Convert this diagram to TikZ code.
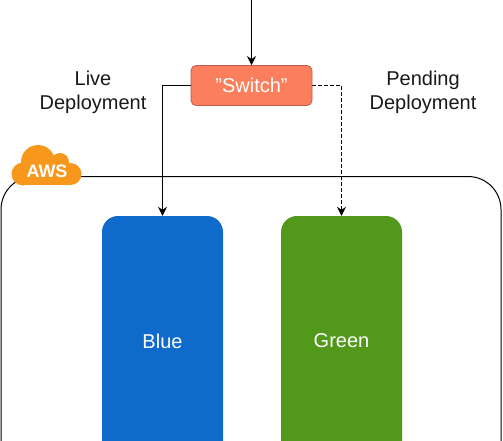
\documentclass[tikz,border=0pt]{standalone}
\usepackage{fontspec}
\setmainfont{Liberation Sans}
\usetikzlibrary{arrows.meta}
\tikzset{
  x=1pt,y=-1pt,
  flow/.style={draw=black,line width=1pt,-{Stealth[length=9pt,width=9pt,inset=3pt]}},
  whitetext/.style={text=white,font=\fontsize{20}{24}\selectfont},
  tier/.style={whitetext,rounded corners=16pt,minimum width=121pt,minimum height=250pt,inner sep=0pt},
  caption/.style={align=center,font=\fontsize{20}{24}\selectfont,text=black!90,inner sep=0pt},
}
\definecolor{awsorange}{HTML}{F7981D}
\begin{document}
\begin{tikzpicture}
\useasboundingbox (0,0) rectangle (503,441);
\clip (0,0) rectangle (503,441);
\fill[white] (0,0) rectangle (503,441);
% AWS region
\node[draw=black,line width=1pt,rounded corners=33pt,minimum width=500pt,minimum height=500pt,inner sep=0pt] (region) at (251,426.5) {};
% tiers
\node[tier,fill={rgb,255:red,15;green,106;blue,204}] (blue) at (162.5,341) {Blue};
\node[tier,fill={rgb,255:red,82;green,152;blue,26}] (green) at (341.5,341) {Green};
% switch
\node[whitetext,draw={rgb,255:red,190;green,90;blue,80},fill={rgb,255:red,251;green,127;blue,92},rounded corners=5pt,line width=0.8pt,minimum width=121pt,minimum height=40pt,inner sep=0pt] (switch) at (251.5,85.5) {"Switch"};
% cloud
\fill[awsorange] (38,162) circle (17);
\fill[awsorange] (60,162) circle (9);
\fill[awsorange] (70.5,174) circle (11);
\fill[awsorange] (23,174) circle (11.5);
\fill[awsorange] (23,165) rectangle (70,185.3);
\node[text=white,font=\bfseries\fontsize{18}{22}\selectfont,inner sep=0pt] (aws) at (47,171.5) {AWS};
% labels
\node[caption] (live) at (93,92.5) {Live\\Deployment};
\node[caption] (pending) at (423,92.5) {Pending\\Deployment};
% connectors
\coordinate (entry) at (251.5,0);
\draw[flow] (entry) -- (switch.north);
\draw[flow] (switch.west) -| (blue.north);
\draw[flow,dash pattern=on 3.5pt off 2.5pt] (switch.east) -| (green.north);
\end{tikzpicture}
\end{document}
